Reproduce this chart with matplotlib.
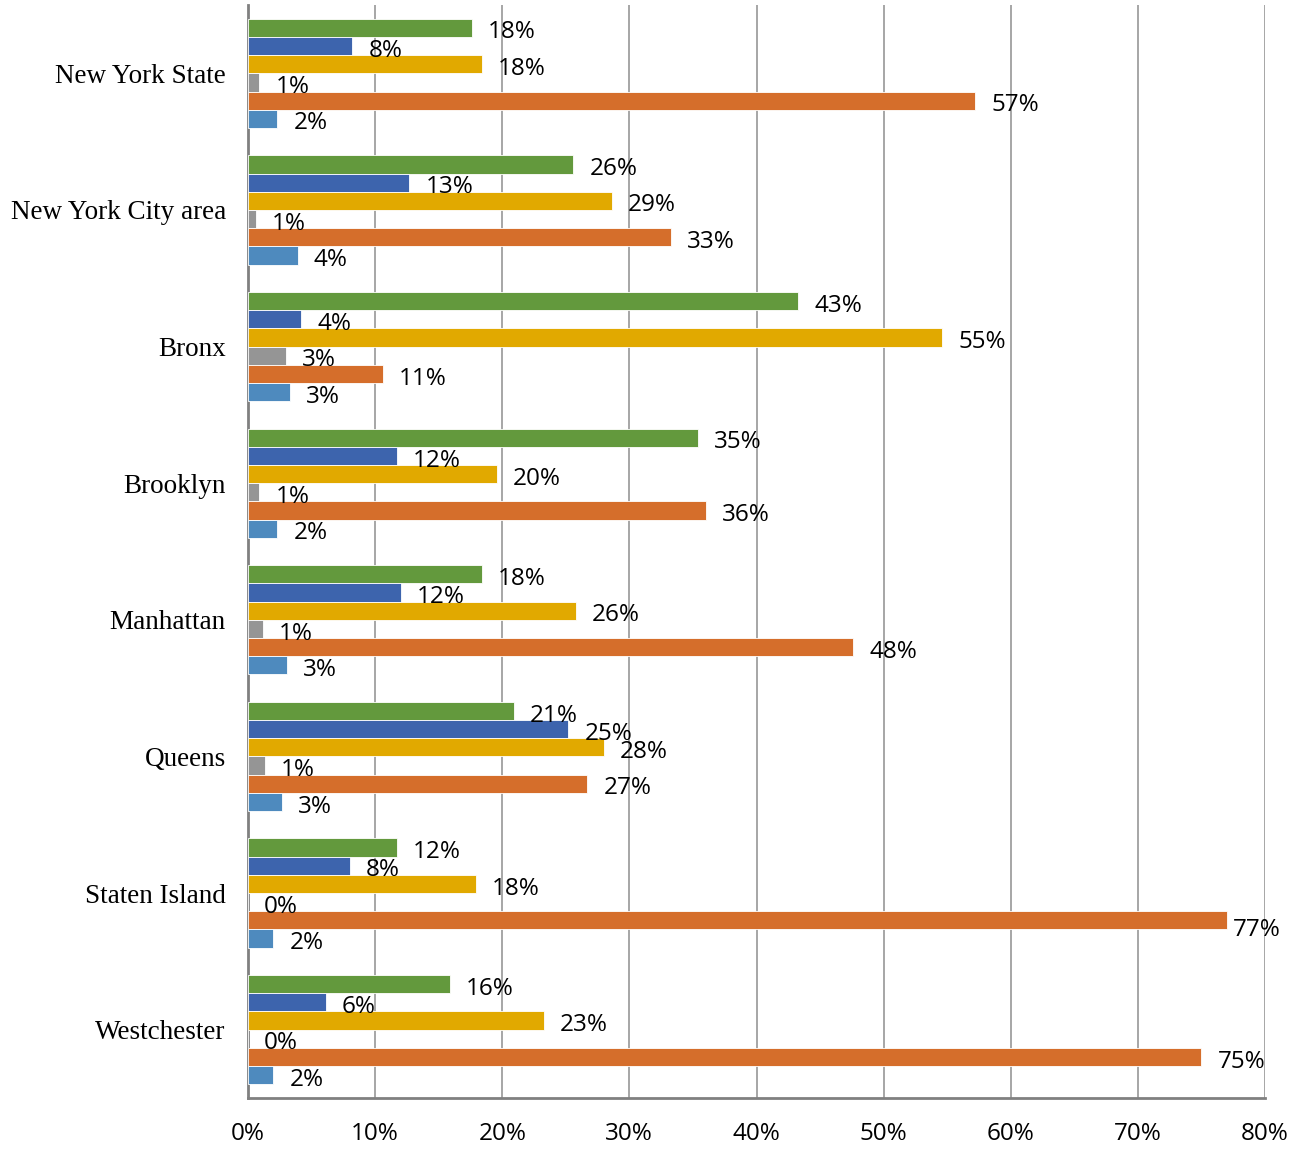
#!/usr/bin/env python3
"""Grouped horizontal bar chart of shares by region (six series per region)."""

import matplotlib
matplotlib.use("Agg")
import matplotlib.pyplot as plt
import numpy as np

regions = ["New York State", "New York City area", "Bronx", "Brooklyn",
           "Manhattan", "Queens", "Staten Island", "Westchester"]

# series listed top to bottom within each group (values in %)
s_green = [17.6, 25.6, 43.3, 35.4, 18.4, 20.9, 11.7, 15.9]
s_darkblue = [8.2, 12.7, 4.2, 11.7, 12.0, 25.2, 8.0, 6.1]
s_yellow = [18.4, 28.6, 54.6, 19.6, 25.8, 28.0, 17.9, 23.3]
s_gray = [0.9, 0.6, 3.0, 0.9, 1.2, 1.3, 0.0, 0.0]
s_orange = [57.2, 33.3, 10.6, 36.0, 47.6, 26.7, 77.0, 75.0]
s_lightblue = [2.3, 3.9, 3.3, 2.3, 3.1, 2.7, 2.0, 2.0]

series = [s_green, s_darkblue, s_yellow, s_gray, s_orange, s_lightblue]
colors = ["#63993D", "#3D64AD", "#E1A900", "#959595", "#D56E2B", "#4E8ABE"]

xticks = [0, 10, 20, 30, 40, 50, 60, 70, 80]

plt.rcParams["font.family"] = ["Open Sans", "DejaVu Sans"]

fig = plt.figure(figsize=(13.06, 11.49), dpi=100)
ax = fig.add_axes([248 / 1306, 1 - 1098 / 1149, (1265 - 248) / 1306, (1098 - 5) / 1149])

n = len(series)
bar_h = 0.8 / n
y = np.arange(len(regions))

for i, (vals, color) in enumerate(zip(series, colors)):
    pos = y - 0.4 + bar_h * (i + 0.5)
    ax.barh(pos, vals, height=bar_h, color=color, edgecolor="white",
            linewidth=0.6, zorder=3)
    for p, v in zip(pos, vals):
        lx, dy = v + 1.26, 0.012
        if lx > 78:
            # label pulled back inside near the right edge
            lx, dy = v + 0.45, 0.05
        ax.text(lx, p + dy, f"{v:.0f}%", va="center_baseline", ha="left",
                fontsize=17.5, color="black", zorder=4)

ax.set_xlim(0, 80)
ax.set_ylim(len(regions) - 0.5, -0.5)
ax.set_xticks(xticks)
ax.set_xticklabels([f"{t}%" for t in xticks], fontsize=17.5)
ax.set_yticks(y)
ax.set_yticklabels(regions, fontsize=19.5, fontfamily="Liberation Serif")
ax.tick_params(axis="both", length=0)
ax.tick_params(axis="x", pad=17)
ax.tick_params(axis="y", pad=16)

ax.grid(axis="x", color="#A6A6A6", linewidth=1.4, zorder=0)
for side in ["top", "right"]:
    ax.spines[side].set_visible(False)
for side in ["left", "bottom"]:
    ax.spines[side].set_color("#808080")
    ax.spines[side].set_linewidth(2)

fig.savefig("out.png", dpi=100)
